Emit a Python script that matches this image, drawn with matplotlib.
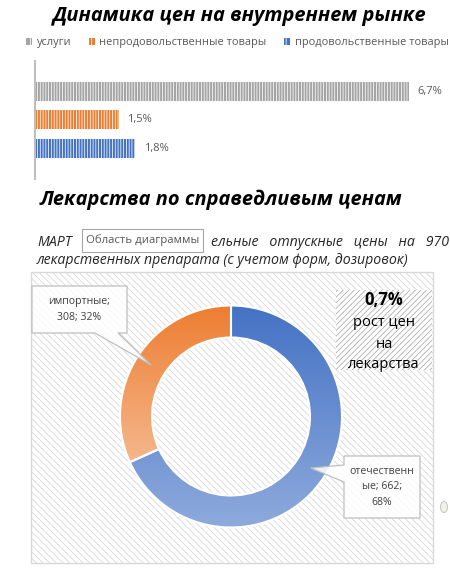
import textwrap
import numpy as np
import matplotlib
matplotlib.use('Agg')
import matplotlib.pyplot as plt
from matplotlib.patches import Rectangle, Polygon, Wedge, Ellipse

# Data
bar_labels = ['услуги', 'непродовольственные товары', 'продовольственные товары']
bar_values = [6.7, 1.5, 1.8]
bar_colors = ['#a5a5a5', '#ed7d31', '#4472c4']

drug_names = ['отечественные', 'импортные']
drug_counts = [662, 308]
grad_top = ['#4472c4', '#ed7d31']
grad_bottom = ['#8eaadc', '#f5b78c']

W, H = 450, 577
plt.rcParams['font.family'] = ['Open Sans', 'DejaVu Sans']
plt.rcParams['hatch.linewidth'] = 0.55

fig = plt.figure(figsize=(W / 100, H / 100), dpi=100, facecolor='white')


def fx(x):
    return x / W


def fy(y):
    return 1 - y / H


# overlay layers in pixel coordinates
bg = fig.add_axes([0, 0, 1, 1], zorder=0)
bg.set_xlim(0, W)
bg.set_ylim(H, 0)
bg.axis('off')
fg = fig.add_axes([0, 0, 1, 1], zorder=5)
fg.set_xlim(0, W)
fg.set_ylim(H, 0)
fg.axis('off')
fg.patch.set_alpha(0)

# ---- top chart
fg.text(240, 16, 'Динамика цен на внутреннем рынке', fontsize=14.4,
        fontweight='bold', fontstyle='italic', ha='center', va='center',
        color='black')

ax = fig.add_axes([fx(35), fy(179), fx(438) - fx(35), fy(61) - fy(179)], zorder=1)
ypos = np.arange(len(bar_values))
bars = ax.barh(ypos, bar_values, height=0.67, color=bar_colors, linewidth=0)
# white narrow vertical stripes over the bars
ax.barh(ypos, bar_values, height=0.67, facecolor='none', edgecolor='white',
        linewidth=0, hatch='||||||')
ax.set_xlim(0, (438 - 35) / 55.8)
ax.set_ylim(3.09, -1.08)
for s in ['top', 'right', 'bottom']:
    ax.spines[s].set_visible(False)
ax.spines['left'].set_color('#bfbfbf')
ax.spines['left'].set_linewidth(1.5)
ax.set_xticks([])
ax.set_yticks([])
for b, v in zip(bars, bar_values):
    ax.annotate(f'{v:.1f}'.replace('.', ',') + '%',
                (b.get_width(), b.get_y() + b.get_height() / 2),
                xytext=(6, 0), textcoords='offset points', va='center',
                ha='left', fontsize=8, color='#595959')

leg_handles = [Rectangle((0, 0), 1, 1, facecolor=c, edgecolor='white',
                         linewidth=0, hatch='|||') for c in bar_colors]
fig.legend(leg_handles, bar_labels, loc='center',
           bbox_to_anchor=(fx(237.5), fy(43)),
           ncol=3, frameon=False, fontsize=7.9, handlelength=0.55,
           handleheight=0.55, columnspacing=1.6, handletextpad=0.4,
           labelcolor='#595959')

# ---- bottom section
fg.text(221, 200, 'Лекарства по справедливым ценам', fontsize=14.4,
        fontweight='bold', fontstyle='italic', ha='center', va='center',
        color='black')
fg.text(37, 242, 'МАРТ', fontsize=10.2, fontstyle='italic', ha='left',
        va='center', color='#262626')
fg.text(449, 242, 'ельные   отпускные   цены   на   970', fontsize=10.2,
        fontstyle='italic', ha='right', va='center', color='#262626')
fg.text(37, 260, 'лекарственных препарата (с учетом форм, дозировок)',
        fontsize=10.2, fontstyle='italic', ha='left', va='center',
        color='#262626')
fg.add_patch(Rectangle((82, 229), 121, 23, facecolor='white',
                       edgecolor='#a6a6a6', linewidth=0.8))
fg.text(142.5, 240, 'Область диаграммы', fontsize=8.2, ha='center',
        va='center', color='#575757')

# chart area
bg.add_patch(Rectangle((31, 272), 402, 291, facecolor='white',
                       edgecolor='#d4d4d4', hatch='\\\\\\\\\\', linewidth=0))
bg.add_patch(Rectangle((31, 272), 402, 291, facecolor='none',
                       edgecolor='#d9d9d9', linewidth=1))
bg.add_patch(Rectangle((336, 290), 96, 80, facecolor='white',
                       edgecolor='#a8a8a8', hatch='//////', linewidth=0))
# small handle icon at the right edge
bg.add_patch(Ellipse((444, 507), 7, 11, facecolor='#f0f3ea',
                     edgecolor='#c8c8c8', linewidth=0.8))

# donut
cx, cy, R = 231, 416.5, 111
half = 120
pax = fig.add_axes([fx(cx - half), fy(cy + half), 2 * half / W, 2 * half / H],
                   zorder=2)
pax.patch.set_alpha(0)
r_out = R / half
ring = 32 / half
wedges, _ = pax.pie(drug_counts, radius=r_out, startangle=90,
                    counterclock=False, colors=grad_top,
                    wedgeprops=dict(width=ring, edgecolor='none'))
for w, ct, cb in zip(wedges, grad_top, grad_bottom):
    x0, y0, x1, y1 = w.get_path().get_extents().extents
    c0 = np.array(matplotlib.colors.to_rgb(ct))
    c1 = np.array(matplotlib.colors.to_rgb(cb))
    t = np.linspace(0, 1, 200)[:, None]
    img = (c0 * (1 - t) + c1 * t)[:, None, :]
    im = pax.imshow(img, extent=[x0, x1, y0, y1], origin='upper',
                    aspect='auto', zorder=2, interpolation='bilinear')
    im.set_clip_path(w)
for w in wedges:
    pax.add_patch(Wedge(w.center, w.r, w.theta1, w.theta2, width=w.width,
                        facecolor='none', edgecolor='white', linewidth=1.5,
                        zorder=3))
pax.set_xlim(-1, 1)
pax.set_ylim(-1, 1)
pax.set_aspect('equal')
pax.axis('off')

# callouts
total = sum(drug_counts)
boxes = [(344, 456, 420, 518), (32, 286, 127, 333)]
for w, name, ct, box in zip(wedges, drug_names, drug_counts, boxes):
    mid = np.deg2rad((w.theta1 + w.theta2) / 2)
    rm = (R - 16)
    tip = (cx + rm * np.cos(mid), cy - rm * np.sin(mid))
    bx0, by0, bx1, by1 = box
    if tip[0] > bx0:
        pts = [(bx0, by0), (bx1, by0), (bx1, by1), (118, by1), tip,
               (95, by1), (bx0, by1)]
    else:
        pts = [(bx0, by0), (bx1, by0), (bx1, by1), (bx0, by1), (bx0, 482),
               tip, (bx0, 465)]
    fg.add_patch(Polygon(pts, closed=True, facecolor='white', alpha=0.85,
                         edgecolor='none'))
    fg.add_patch(Polygon(pts, closed=True, facecolor='none',
                         edgecolor='#bfbfbf', linewidth=0.9))
    pct = round(100 * ct / total)
    label = '\n'.join(textwrap.wrap(f'{name}; {ct}; {pct}%', 11))
    fg.text((bx0 + bx1) / 2, (by0 + by1) / 2, label, fontsize=7.6,
            ha='center', va='center', color='#404040', linespacing=1.6)

fg.text(384, 300, '0,7%', fontsize=12, fontweight='bold', ha='center',
        va='center', color='black')
for txt, yy in [('рост цен', 323), ('на', 344), ('лекарства', 364)]:
    fg.text(384, yy, txt, fontsize=10.5, ha='center', va='center',
            color='black')

fig.savefig('out.png', dpi=100, facecolor='white')
